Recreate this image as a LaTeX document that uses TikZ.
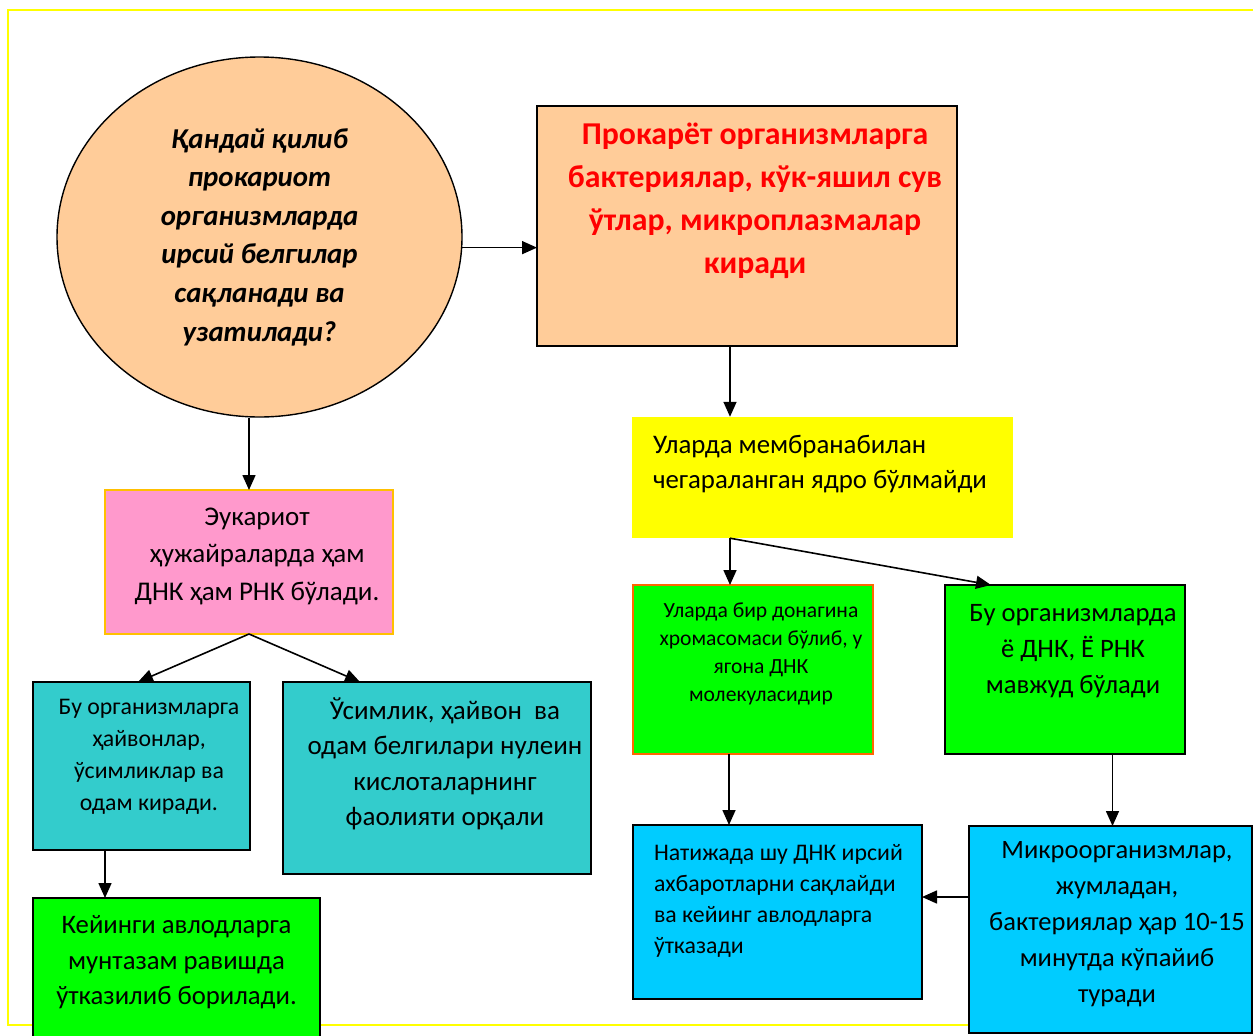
\documentclass[tikz,border=0pt]{standalone}
\usepackage{fontspec}
\setmainfont{Carlito}
\usetikzlibrary{arrows.meta,shapes.geometric,calc}
\definecolor{peach}{RGB}{255,204,153}
\definecolor{pinkfill}{RGB}{255,153,204}
\definecolor{gold}{RGB}{255,192,0}
\definecolor{yel}{RGB}{255,255,0}
\definecolor{grn}{RGB}{0,255,0}
\definecolor{orng}{RGB}{255,102,0}
\definecolor{teal1}{RGB}{51,204,204}
\definecolor{sky}{RGB}{0,204,255}
\definecolor{redtxt}{RGB}{255,0,0}
\newcommand\fsz[2]{\fontsize{#1}{#2}\selectfont}
\tikzset{
  boxshape/.style={rectangle,draw=black,line width=2pt,inner sep=0pt,outer sep=0pt},
  txt/.style={inner sep=0pt,outer sep=0pt,align=center},
  arr/.style={line width=1.6pt,-{Triangle[length=15pt,width=13pt]}},
  ln/.style={line width=1.6pt}
}
\begin{document}
\begin{tikzpicture}[x=1pt,y=-1pt]
\useasboundingbox[fill=white] (0,0) rectangle (1253,1036);
% frame
\draw[yel,line width=2.2pt] (1270,10) -- (8,10) -- (8,1025) -- (1270,1025);
% ellipse
\node[ellipse,draw=black,line width=1.4pt,fill=peach,minimum width=405pt,minimum height=360pt,inner sep=0pt,align=center,
  font=\fsz{28.8}{38.6}\bfseries\itshape] (ell) at (259.5,237)
  {Қандай қилиб\\прокариот\\организмларда\\ирсий белгилар\\сақланади ва\\узатилади?};
% orange box
\node[boxshape,fill=peach,minimum width=420pt,minimum height=240pt] (orb) at (747,226) {};
\node[txt,font=\fsz{31.8}{43}\bfseries,text=redtxt] (orbt) at (755,201)
  {Прокарёт организмларга\\бактериялар, кўк-яшил сув\\ўтлар, микроплазмалар\\киради};
% yellow box
\node[rectangle,fill=yel,draw=none,inner sep=0pt,minimum width=381pt,minimum height=121pt] (yb) at (822.5,477.5) {};
\node[txt,align=left,anchor=west,font=\fsz{26.8}{35}] (ybt) at (653,464.5)
  {Уларда мембранабилан\\чегараланган ядро бўлмайди};
% pink box
\node[boxshape,draw=gold,line width=1.5pt,fill=pinkfill,minimum width=288pt,minimum height=144pt] (pk) at (249,562) {};
\node[txt,font=\fsz{27}{37.5}] (pkt) at (257,556)
  {Эукариот\\ҳужайраларда ҳам\\ДНК ҳам РНК бўлади.};
% left cyan
\node[boxshape,fill=teal1,minimum width=217pt,minimum height=168pt] (lc) at (141.5,766) {};
\node[txt,font=\fsz{23.8}{32}] (lct) at (149,757)
  {Бу организмларга\\ҳайвонлар,\\ўсимликлар ва\\одам киради.};
% right cyan
\node[boxshape,fill=teal1,minimum width=308pt,minimum height=192pt] (rc) at (437,778) {};
\node[txt,font=\fsz{27}{35.5}] (rct) at (445,764)
  {Ўсимлик, ҳайвон\ \ ва\\одам белгилари нулеин\\кислоталарнинг\\фаолияти орқали};
% green bottom left
\node[boxshape,fill=grn,minimum width=287pt,minimum height=160pt] (gb) at (176.5,978) {};
\node[txt,font=\fsz{26.7}{35.5}] (gbt) at (176.5,962.5)
  {Кейинги авлодларга\\мунтазам равишда\\ўтказилиб борилади.};
% green left
\node[boxshape,draw=orng,line width=1.5pt,fill=grn,minimum width=240pt,minimum height=169pt] (gl) at (753,669.5) {};
\node[txt,font=\fsz{21.6}{28}] (glt) at (761,654)
  {Уларда бир донагина\\хромасомаси бўлиб, у\\ягона ДНК\\молекуласидир};
% green right
\node[boxshape,fill=grn,minimum width=240pt,minimum height=169pt] (gr) at (1065,669.5) {};
\node[txt,font=\fsz{26.6}{36}] (grt) at (1073,651)
  {Бу организмларда\\ё ДНК, Ё РНК\\мавжуд бўлади};
% blue left
\node[boxshape,fill=sky,minimum width=289pt,minimum height=174pt] (bl) at (777.5,912) {};
\node[txt,align=left,anchor=west,font=\fsz{23.8}{31}] (blt) at (654,901)
  {Натижада шу ДНК ирсий\\ахбаротларни сақлайди\\ва кейинг авлодларга\\ўтказади};
% blue right
\node[boxshape,fill=sky,minimum width=283pt,minimum height=207pt] (br) at (1110.5,929.5) {};
\node[txt,font=\fsz{26.5}{36}] (brt) at (1117,924)
  {Микроорганизмлар,\\жумладан,\\бактериялар ҳар 10-15\\минутда кўпайиб\\туради};
% connectors
\draw[arr] (ell.-3.7) -- (ell.-3.7 -| orb.west);
\draw[arr] (pk.north |- ell.south) -- (pk.north);
\draw[arr] ([xshift=-17pt]orb.south) -- ([xshift=-17pt]orb.south |- yb.north);
\coordinate (ys) at ([xshift=-92.5pt]yb.south);
\draw[arr] (ys) -- (ys |- gl.north);
\draw[arr] (ys) -- ([xshift=-74pt]gr.north);
\draw[arr] (pk.south) -- ([xshift=-3.5pt]lc.north);
\draw[arr] (pk.south) -- ([xshift=-77pt]rc.north);
\draw[arr] ([xshift=-36.5pt]lc.south) -- ([xshift=-36.5pt]lc.south |- gb.north);
\draw[arr] ([xshift=-24pt]gl.south) -- ([xshift=-24pt]gl.south |- bl.north);
\draw[arr] ([xshift=47.5pt]gr.south) -- ([xshift=47.5pt]gr.south |- br.north);
\draw[arr] ([yshift=32.5pt]br.west) -- ([yshift=32.5pt]br.west -| bl.east);
\end{tikzpicture}
\end{document}
